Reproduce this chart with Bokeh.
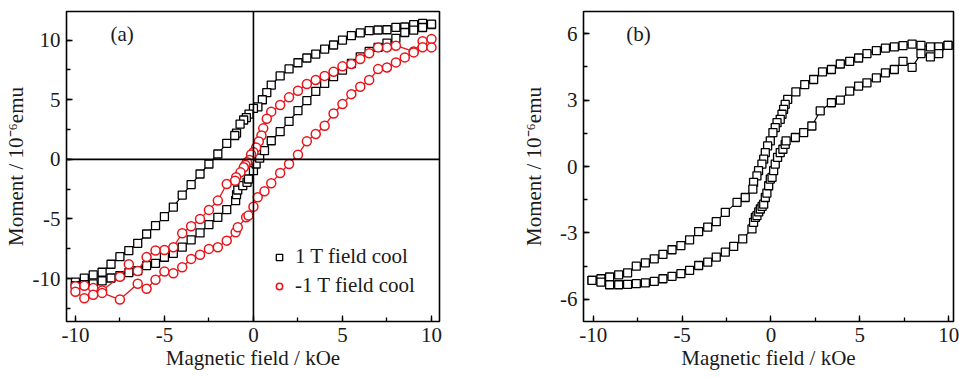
from bokeh.plotting import figure
from bokeh.models import Span, Label, Legend, LegendItem, Range1d, SingleIntervalTicker
from bokeh.layouts import row
from bokeh.embed import file_html
from bokeh.resources import INLINE

# ---------------- data: panel (a) ----------------
# 1 T field cool, descending branch (+10 -> -10 kOe)
a1_down_x = [10, 9.5, 9, 8.5, 8, 7.5, 7, 6.5, 6, 5.5, 5, 4.5, 4, 3.5, 3, 2.5, 2, 1.5, 1, 0.75, 0.5,
             0.25, 0, -0.25, -0.4, -0.55, -0.75, -0.95, -1.05, -1.5, -2, -2.5, -3, -3.5, -4, -4.5,
             -5, -5.5, -6, -6.5, -7, -7.5, -8, -8.5, -9, -9.5, -10]
a1_down_y = [11.3, 11.4, 11.3, 11.1, 11.07, 10.87, 10.85, 10.79, 10.6, 10.37, 10.0, 9.59, 9.25, 8.83,
             8.5, 8.1, 7.58, 7.0, 6.23, 5.6, 5.0, 4.4, 4.27, 3.8, 3.5, 3.3, 2.96, 2.2, 2.0, 1.34, 0.45,
             -0.39, -1.23, -2.12, -3.0, -4.0, -4.8, -5.56, -6.26, -7.04, -7.65, -8.16, -8.8, -9.47,
             -9.69, -9.97, -10.3]
# 1 T field cool, ascending branch (-10 -> +10 kOe)
a1_up_x = [-10, -9.5, -9, -8.5, -8, -7.5, -7, -6.5, -6, -5.5, -5, -4.5, -4, -3.5, -3, -2.5, -2, -1.5,
           -1, -0.95, -0.88, -0.6, -0.36, -0.28, 0, 0.15, 0.35, 0.62, 1, 1.5, 2, 2.5, 3, 3.5, 4, 4.5,
           5, 5.5, 6, 6.5, 7, 7.5, 8, 8.5, 9, 9.5, 10]
a1_up_y = [-10.6, -10.5, -10.44, -10.2, -9.95, -9.75, -9.5, -9.33, -8.91, -8.72, -8.21, -7.88, -7.37,
           -6.76, -6.17, -5.47, -4.86, -4.22, -3.46, -2.96, -2.57, -2.2, -1.93, -1.65, -0.95, -0.39,
           0.1, 0.73, 1.56, 2.32, 3.18, 4.08, 4.92, 5.7, 6.37, 6.93, 7.49, 8.04, 8.6, 9.05, 9.39,
           9.75, 10.14, 10.64, 10.84, 11.06, 11.34]
# -1 T field cool, descending branch
a2_down_x = [10, 9.5, 9.0, 8.0, 7.5, 7.0, 6.5, 6.0, 5.5, 5.0, 4.5, 4.0, 3.5, 3.0, 2.5, 2.0, 1.5, 1.0,
             0.75, 0.55, 0.45, 0.3, 0.15, 0, -0.13, -0.22, -0.36, -0.45, -0.54, -0.73, -0.97, -1.03,
             -1.5, -2.0, -2.5, -3.0, -3.5, -4.0, -4.5, -5.0, -5.5, -6.0, -6.5, -7.0, -7.5, -8.5,
             -9.0, -9.5, -10]
a2_down_y = [10.1, 9.9, 9.05, 9.53, 9.39, 9.39, 8.89, 8.42, 8.0, 7.8, 7.35, 7.0, 6.66, 6.32, 5.76, 5.2,
             4.56, 4.0, 3.4, 2.6, 2.0, 1.5, 1.0, 0.6, 0.4, -0.05, -0.25, -0.47, -0.67, -1.09, -1.5,
             -1.79, -2.07, -3.46, -4.24, -5.0, -5.61, -6.2, -7.37, -7.6, -7.65, -8.2, -9.36, -8.8,
             -9.85, -11.0, -10.8, -10.6, -10.65]
# -1 T field cool, ascending branch
a2_up_x = [-10, -9.5, -9.0, -8.5, -7.5, -6.5, -6.0, -5.5, -5.0, -4.5, -4.0, -3.5, -3.0, -2.5, -2.0,
           -1.5, -1.0, -0.88, -0.41, -0.28, 0, 0.24, 0.62, 1.0, 1.5, 2.0, 2.5, 3.0, 3.5, 4.0, 4.5,
           5.0, 5.5, 6.0, 6.5, 7.0, 7.5, 8.0, 8.5, 9.0, 9.5, 10]
a2_up_y = [-11.1, -11.65, -11.35, -11.2, -11.76, -10.44, -10.86, -10.1, -9.41, -9.55, -9.05, -8.35,
           -8.0, -7.51, -7.37, -6.82, -6.12, -5.7, -4.86, -4.72, -3.97, -3.18, -2.68, -2.0, -1.15,
           -0.39, 0.39, 1.51, 2.12, 2.82, 3.85, 4.64, 5.47, 6.09, 6.65, 7.57, 7.71, 8.13, 8.55,
           8.97, 9.4, 9.39]

# ---------------- data: panel (b) ----------------
b_down_x = [9.96, 9.44, 8.97, 8.44, 7.94, 7.43, 6.94, 6.44, 5.93, 5.4, 4.93, 4.43, 3.9, 3.4, 2.9, 2.4,
            1.9, 1.4, 0.94, 0.8, 0.71, 0.62, 0.52, 0.34, 0.24, 0.11, -0.04, -0.19, -0.32, -0.41,
            -0.51, -0.7, -0.79, -0.98, -1.02, -1.45, -1.91, -2.57, -3.08, -3.56, -4.07, -4.58,
            -5.07, -5.57, -6.08, -6.57, -7.07, -7.58, -8.07, -8.57, -9.08, -9.57, -10.07]
b_down_y = [5.47, 5.4, 5.4, 5.47, 5.53, 5.46, 5.4, 5.35, 5.23, 5.1, 4.9, 4.75, 4.63, 4.38, 4.27, 3.93,
            3.7, 3.37, 3.03, 2.81, 2.58, 2.36, 2.13, 1.98, 1.76, 1.53, 1.16, 0.93, 0.63, 0.33, 0.11,
            -0.19, -0.42, -0.72, -1.02, -1.4, -1.62, -2.07, -2.49, -2.74, -2.94, -3.31, -3.57,
            -3.76, -3.97, -4.17, -4.35, -4.5, -4.8, -4.89, -4.99, -5.07, -5.14]
b_up_x = [-10.07, -9.57, -9.08, -8.57, -8.07, -7.58, -7.07, -6.57, -6.08, -5.57, -5.07, -4.58, -4.07,
          -3.56, -3.08, -2.57, -2.1, -1.59, -1.07, -0.98, -0.88, -0.79, -0.69, -0.6, -0.5, -0.41,
          -0.32, -0.23, -0.13, -0.04, 0.06, 0.15, 0.24, 0.37, 0.52, 0.67, 0.8, 0.85, 1.37, 1.84,
          2.3, 2.77, 3.4, 3.9, 4.43, 4.93, 5.4, 5.93, 6.44, 6.94, 7.43, 7.94, 8.44, 8.97, 9.44, 9.96]
b_up_y = [-5.14, -5.22, -5.34, -5.34, -5.32, -5.29, -5.26, -5.19, -5.07, -4.96, -4.84, -4.69, -4.47,
          -4.32, -4.09, -3.87, -3.61, -3.27, -2.82, -2.52, -2.3, -2.22, -2.05, -1.92, -1.8, -1.7,
          -1.4, -1.2, -0.87, -0.57, -0.49, -0.19, 0.11, 0.41, 0.63, 0.78, 1.0, 1.16, 1.31, 1.53,
          1.83, 2.51, 2.88, 3.0, 3.4, 3.63, 3.78, 4.0, 4.23, 4.38, 4.75, 4.48, 5.1, 4.95, 5.1, 5.47]

x_ticks = [-10, -5, 0, 5, 10]
a_y_ticks = [-10, -5, 0, 5, 10]
b_y_ticks = [-6, -3, 0, 3, 6]

FONT = "Liberation Serif"
TXT = "#1a1a1a"
FS = "21px"


def style(p, xticks, yticks, xint, yint):
    p.outline_line_color = "black"
    p.outline_line_width = 1.6
    p.outline_line_alpha = 1.0
    p.xgrid.visible = False
    p.ygrid.visible = False
    p.xaxis.ticker = SingleIntervalTicker(interval=xint, num_minor_ticks=2)
    p.yaxis.ticker = SingleIntervalTicker(interval=yint, num_minor_ticks=2)
    p.xaxis.major_label_overrides = {t: str(t) for t in xticks}
    p.yaxis.major_label_overrides = {t: str(t) for t in yticks}
    for ax in (p.xaxis[0], p.yaxis[0]):
        ax.axis_line_color = None
        ax.major_tick_in = 6
        ax.major_tick_out = 0
        ax.minor_tick_in = 4
        ax.minor_tick_out = 0
        ax.major_tick_line_color = "black"
        ax.minor_tick_line_color = "black"
        ax.major_tick_line_width = 1.3
        ax.minor_tick_line_width = 1.3
        ax.major_label_text_font = FONT
        ax.major_label_text_font_size = FS
        ax.major_label_text_color = TXT
        ax.axis_label_text_font = FONT
        ax.axis_label_text_font_size = FS
        ax.axis_label_text_font_style = "normal"
        ax.axis_label_text_color = TXT
        ax.major_label_standoff = 6
    p.xaxis.axis_label = "Magnetic field / kOe"
    p.yaxis.axis_label = "Moment / 10\u207b\u2076emu"
    p.xaxis.axis_label_standoff = 1


# ---------------- panel (a) ----------------
pa = figure(width=480, height=373, output_backend="svg", toolbar_location=None,
            x_range=Range1d(-10.5, 10.45), y_range=Range1d(-13.6, 12.4),
            min_border_left=66, min_border_right=41, min_border_top=11, min_border_bottom=52)
style(pa, x_ticks, a_y_ticks, 5, 5)
pa.yaxis.axis_label_standoff = 2
pa.add_layout(Span(location=0, dimension="height", line_color="black", line_width=1.6))
pa.add_layout(Span(location=0, dimension="width", line_color="black", line_width=1.6))

a1x = a1_down_x + a1_up_x
a1y = a1_down_y + a1_up_y
a2x = a2_down_x + a2_up_x
a2y = a2_down_y + a2_up_y
pa.line(a1x, a1y, line_color="black", line_width=1.2)
r1 = pa.scatter(a1x, a1y, marker="square", size=8, fill_color="white", line_color="black",
                line_width=1.3)
pa.line(a2x, a2y, line_color="#e8141b", line_width=1.3)
r2 = pa.scatter(a2x, a2y, marker="circle", size=9, fill_color="white", line_color="#e8141b",
                line_width=1.5)

leg = Legend(items=[LegendItem(label="1 T field cool", renderers=[r1]),
                    LegendItem(label="-1 T field cool", renderers=[r2])],
             location=(205, 23), border_line_color=None, background_fill_alpha=0,
             padding=0, margin=0, spacing=4, glyph_width=16, glyph_height=24,
             label_standoff=8, label_height=24, label_text_font=FONT,
             label_text_font_size=FS, label_text_color=TXT)
pa.add_layout(leg)
pa.add_layout(Label(x=-8.03, y=10.54, text="(a)", text_font=FONT, text_font_size=FS,
                    text_baseline="middle", text_color=TXT))

# ---------------- panel (b) ----------------
pb = figure(width=479, height=373, output_backend="svg", toolbar_location=None,
            x_range=Range1d(-10.55, 10.27), y_range=Range1d(-7, 7),
            min_border_left=103, min_border_right=6, min_border_top=10, min_border_bottom=52)
style(pb, x_ticks, b_y_ticks, 5, 3)
pb.yaxis.axis_label_standoff = 11
bx = b_down_x + b_up_x
by = b_down_y + b_up_y
pb.line(bx, by, line_color="black", line_width=1.2)
pb.scatter(bx, by, marker="square", size=8, fill_color="white", line_color="black", line_width=1.3)
pb.add_layout(Label(x=-8.14, y=5.98, text="(b)", text_font=FONT, text_font_size=FS,
                    text_baseline="middle", text_color=TXT))

layout = row(pa, pb)
open("out.html", "w").write(file_html(layout, INLINE))
